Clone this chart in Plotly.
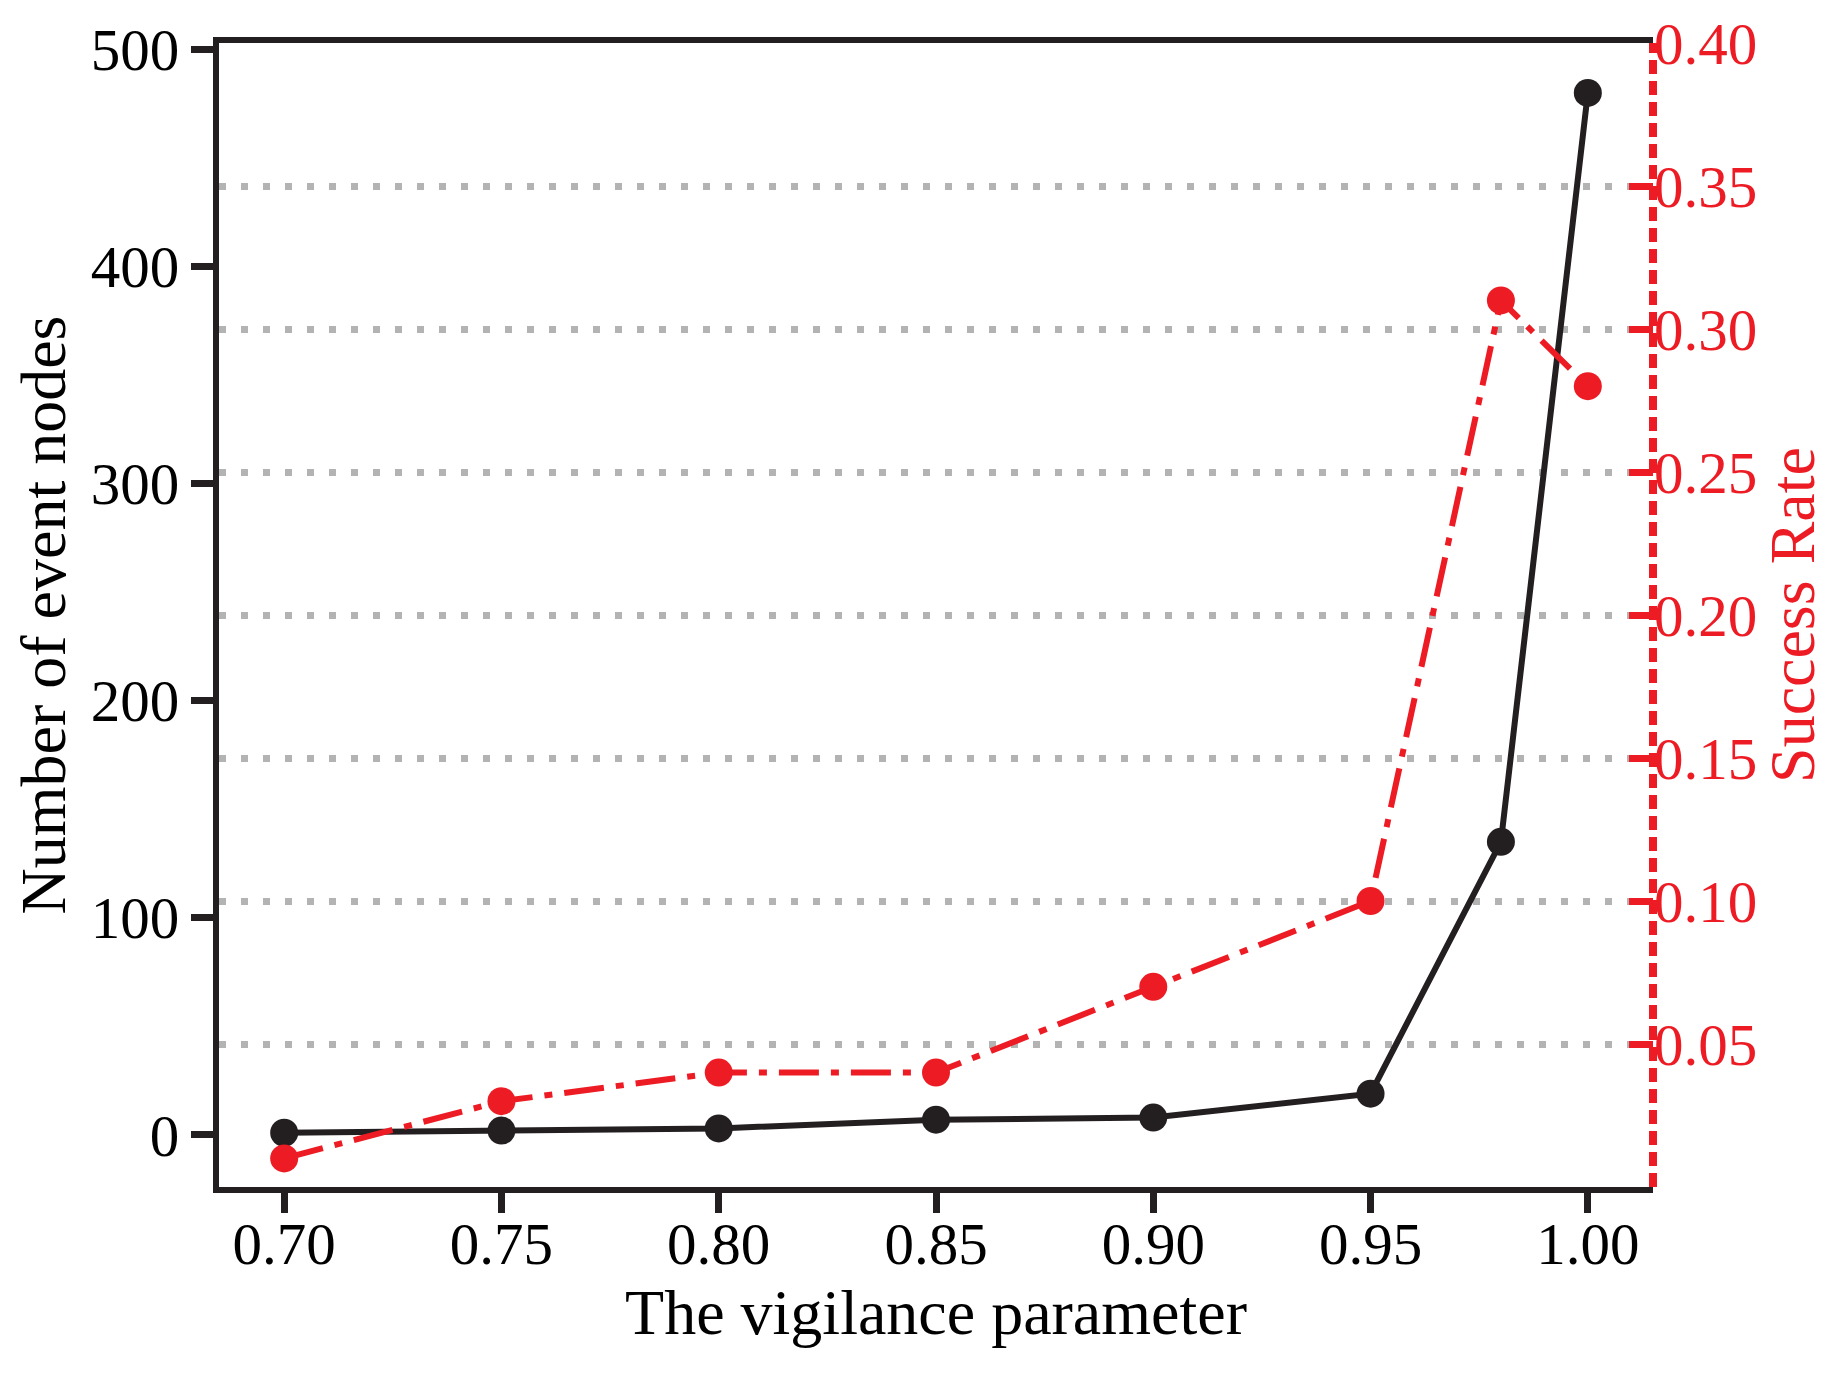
import plotly.graph_objects as go

vigilance = [0.70, 0.75, 0.80, 0.85, 0.90, 0.95, 0.98, 1.00]
event_nodes = [1, 2, 3, 7, 8, 19, 135, 480]
success_rate = [0.01, 0.03, 0.04, 0.04, 0.07, 0.10, 0.31, 0.28]

x_ticks = [0.70, 0.75, 0.80, 0.85, 0.90, 0.95, 1.00]
left_ticks = [0, 100, 200, 300, 400, 500]
right_ticks = [0.05, 0.10, 0.15, 0.20, 0.25, 0.30, 0.35, 0.40]

BLACK = "#231f20"
RED = "#ed1c24"
FONT = "Liberation Serif"

fig = go.Figure()
fig.add_trace(go.Scatter(
    x=vigilance, y=event_nodes, mode="lines+markers", name="Number of event nodes",
    line=dict(color=BLACK, width=6), marker=dict(color=BLACK, size=28),
    cliponaxis=False,
))
fig.add_trace(go.Scatter(
    x=vigilance, y=success_rate, mode="lines+markers", name="Success Rate",
    yaxis="y2",
    line=dict(color=RED, width=6, dash="40px,12px,8px,12px"),
    marker=dict(color=RED, size=28),
    cliponaxis=False,
))

# dashed red spine on the right side
fig.add_shape(type="line", xref="paper", yref="paper", x0=1, x1=1, y0=0, y1=1,
              line=dict(color=RED, width=8, dash="14px,7px"), layer="above")

fig.update_layout(
    width=1842, height=1375,
    margin=dict(l=211, r=197, t=35, b=196),
    plot_bgcolor="white", paper_bgcolor="white",
    showlegend=False,
    font=dict(family=FONT, size=59, color="black"),
    xaxis=dict(
        range=[0.685, 1.015], tickvals=x_ticks, tickformat=".2f",
        showline=True, linecolor=BLACK, linewidth=6, mirror=True,
        ticks="outside", ticklen=20, tickwidth=7, tickcolor=BLACK,
        ticklabelstandoff=-20, automargin=False,
        showgrid=False, zeroline=False,
        title=dict(text="The vigilance parameter", font=dict(size=64), standoff=8),
    ),
    yaxis=dict(
        range=[-24, 503], tickvals=left_ticks,
        showline=True, linecolor=BLACK, linewidth=6,
        ticks="outside", ticklen=22, tickwidth=7, tickcolor=BLACK,
        ticklabeloverflow="allow", automargin=False,
        showgrid=False, zeroline=False,
        title=dict(text="Number of event nodes", font=dict(size=64), standoff=12),
    ),
    yaxis2=dict(
        overlaying="y", side="right",
        range=[0.0, 0.4], tickvals=right_ticks, tickformat=".2f",
        showline=False,
        ticks="inside", ticklen=24, tickwidth=7, tickcolor=RED,
        tickfont=dict(color=RED),
        ticklabeloverflow="allow", automargin=False,
        showgrid=True, gridcolor="#b3b3b3", gridwidth=7, griddash="7px,15px",
        zeroline=False,
        title=dict(text="Success Rate", font=dict(size=64, color=RED), standoff=10),
    ),
)

fig.write_html("out.html")
